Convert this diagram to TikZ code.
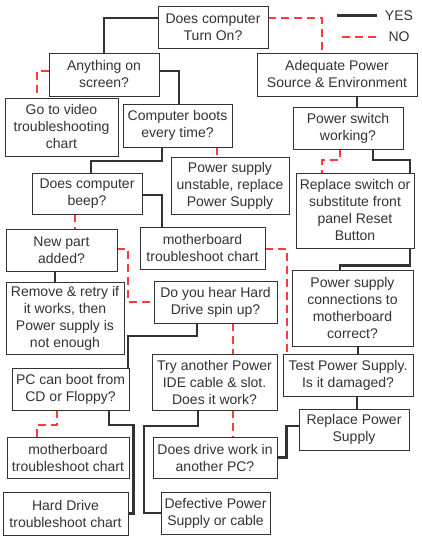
\documentclass[tikz,border=0pt]{standalone}
\usepackage{fontspec}
\setmainfont{Liberation Sans}
\usetikzlibrary{backgrounds}
\definecolor{linegray}{RGB}{51, 51, 51}
\definecolor{nored}{RGB}{250, 60, 60}

\begin{document}
\begin{tikzpicture}[x=1pt, y=1pt,
    box/.style={draw=linegray, fill=white, line width=0.8pt, align=center,
                text=linegray, inner sep=1pt,
                font=\fontsize{14}{17}\selectfont},
    yes/.style={draw=linegray, line width=2.2pt},
    no/.style={draw=nored, line width=2pt, dash pattern=on 8pt off 5pt}]
    \useasboundingbox (0,0) rectangle (421,543);

    \node[box, minimum width=110, minimum height=42] (turnon) at (213,516) {Does computer\\Turn On?};
    \node[box, minimum width=110, minimum height=43] (anything) at (104,468.5) {Anything on\\screen?};
    \node[box, minimum width=160, minimum height=43] (adequate) at (337,468.5) {Adequate Power\\Source \& Environment};
    \node[box, minimum width=113, minimum height=58] (video) at (61.5,416) {Go to video\\troubleshooting\\chart};
    \node[box, minimum width=109, minimum height=43] (boots) at (177.5,417.5) {Computer boots\\every time?};
    \node[box, minimum width=110, minimum height=42] (pswitch) at (348,415) {Power switch\\working?};
    \node[box, minimum width=118, minimum height=57] (unstable) at (230,357.5) {Power supply\\unstable, replace\\Power Supply};
    \node[box, minimum width=118, minimum height=75] (repswitch) at (355,332.5) {Replace switch or\\substitute front\\panel Reset\\Button};
    \node[box, minimum width=110, minimum height=41] (beep) at (87,349.5) {Does computer\\beep?};
    \node[box, minimum width=111, minimum height=42] (newpart) at (61.5,293) {New part\\added?};
    \node[box, minimum width=125, minimum height=42] (mbchart) at (202.5,295) {motherboard\\troubleshoot chart};
    \node[box, minimum width=121, minimum height=76] (psconn) at (352.5,235) {Power supply\\connections to\\motherboard\\correct?};
    \node[box, minimum width=118, minimum height=72] (remove) at (65,225) {Remove \& retry if\\it works, then\\Power supply is\\not enough};
    \node[box, minimum width=123, minimum height=42] (hear) at (215.5,241) {Do you hear Hard\\Drive spin up?};
    \node[box, minimum width=117, minimum height=42] (pcboot) at (70.5,154) {PC can boot from\\CD or Floppy?};
    \node[box, minimum width=125, minimum height=56] (tryanother) at (214.5,161) {Try another Power\\IDE cable \& slot.\\Does it work?};
    \node[box, minimum width=130, minimum height=42] (testps) at (348,168) {Test Power Supply.\\Is it damaged?};
    \node[box, minimum width=110, minimum height=41] (replaceps) at (354,113.5) {Replace Power\\Supply};
    \node[box, minimum width=122, minimum height=41] (mbchartb) at (68,85.5) {motherboard\\troubleshoot chart};
    \node[box, minimum width=124, minimum height=41] (drivework) at (215,85.5) {Does drive work in\\another PC?};
    \node[box, minimum width=125, minimum height=43] (hdchart) at (65.5,29.5) {Hard Drive\\troubleshoot chart};
    \node[box, minimum width=109, minimum height=42] (defective) at (215.5,30) {Defective Power\\Supply or cable};

    % legend
    \coordinate (yesa) at (337,527);
    \coordinate (yesb) at (377,527);
    \coordinate (noa) at (342,506);
    \coordinate (nob) at (377,506);
    \node[text=linegray, font=\fontsize{14}{17}\selectfont] (yeslabel) at (399,527) {YES};
    \node[text=linegray, font=\fontsize{14}{17}\selectfont] (nolabel) at (399,506) {NO};
    \draw[yes, line width=3pt] (yesa) -- (yesb);
    \draw[no, line width=2.5pt] (noa) -- (nob);

    \begin{scope}[on background layer]
    \draw[yes] ([yshift=9pt]turnon.west) -| (anything.north);
    \draw[no] ([yshift=9pt]turnon.east) -| ([xshift=-15pt]adequate.north);
    \draw[no] ([yshift=3.5pt]anything.west) -| ([xshift=-24.5pt]video.north);
    \draw[yes] ([yshift=3.5pt]anything.east) -| ([xshift=1.5pt]boots.north);
    \draw[yes] ([xshift=20pt]adequate.south) -- ([xshift=20pt]adequate.south |- pswitch.north);
    \draw[yes] ([xshift=-15.5pt]boots.south) -- ++(0,-14pt) -| ([xshift=4pt]beep.north);
    \draw[no] ([xshift=39.5pt]boots.south) -- ([xshift=39.5pt]boots.south |- unstable.north);
    \draw[no] ([xshift=-8pt]pswitch.south) -- ++(0,-11pt) -| ([xshift=-33pt]repswitch.north);
    \draw[yes] ([xshift=25pt]pswitch.south) -- ++(0,-11pt) -| ([xshift=57.5pt,yshift=4pt]psconn.north) -| ([xshift=-12.5pt]psconn.north);
    \draw[no] ([xshift=-12pt]beep.south) -- ([xshift=-12pt]beep.south |- newpart.north);
    \draw[yes] ([yshift=-1.5pt]beep.east) -| ([xshift=-40.5pt]mbchart.north);
    \draw[yes] ([xshift=-6.5pt]newpart.south) -- ([xshift=-6.5pt]newpart.south |- remove.north);
    \draw[no] ([yshift=1pt]newpart.east) -- ++(11pt,0) |- (hear.west);
    \draw[no] ([yshift=-1pt]mbchart.east) -- ++(22pt,0) -| ([xshift=-61pt]testps.north);
    \draw[yes] ([xshift=5.5pt]psconn.south) -- ([xshift=5.5pt]psconn.south |- testps.north);
    \draw[yes] ([xshift=-18.5pt]hear.south) -- ++(0,-13pt) -| ([xshift=57.5pt]pcboot.north);
    \draw[no] ([xshift=17.5pt]hear.south) -- ([xshift=17.5pt]hear.south |- tryanother.north);
    \draw[no] ([xshift=-13.5pt]pcboot.south) -- ++(0,-15pt) -| ([xshift=-31pt]mbchartb.north);
    \draw[yes] ([xshift=38.5pt]pcboot.south) -- ++(0,-15pt) -| ([xshift=5pt]hdchart.east) -- (hdchart.east);
    \draw[yes] ([xshift=-16.5pt]tryanother.south) -- ++(0,-16pt) -| ([xshift=-17pt]defective.west) -- (defective.west);
    \draw[no] ([xshift=18.5pt]tryanother.south) -- ([xshift=18.5pt]tryanother.south |- drivework.north);
    \draw[yes] ([xshift=9pt]testps.south) -- ([xshift=9pt]testps.south |- replaceps.north);
    \draw[yes] (drivework.east) -- ++(9pt,0) |- ([yshift=3.5pt]replaceps.west);
    \end{scope}
\end{tikzpicture}
\end{document}
